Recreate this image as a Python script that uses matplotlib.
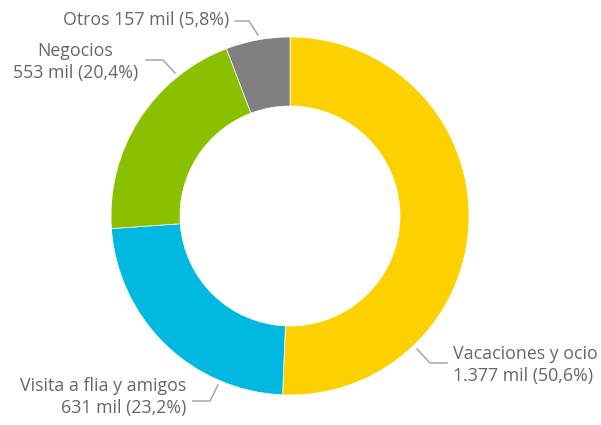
import matplotlib.pyplot as plt

# -------------------------
# Data
# -------------------------
categories = ['Vacaciones y ocio', 'Visita a flia y amigos', 'Negocios', 'Otros']
values = [1377, 631, 553, 157]          # miles
percents = ['50,6%', '23,2%', '20,4%', '5,8%']
colors = ['#FDD100', '#01B8E0', '#8AC000', '#7F7F82']

plt.rcParams['font.family'] = ['Open Sans', 'DejaVu Sans']

W, H = 601, 425
fig = plt.figure(figsize=(W / 100, H / 100), dpi=100)
ax = fig.add_axes([0, 0, 1, 1])

cx, cy, r = 290, H - 216, 179
ax.pie(values, colors=colors, startangle=90, counterclock=False,
       radius=r, center=(cx, cy),
       wedgeprops=dict(width=69, edgecolor='white', linewidth=0.5))

ax.set_xlim(0, W)
ax.set_ylim(0, H)
ax.set_aspect('equal')
ax.axis('off')

def fmt_val(v):
    s = f"{v:,}".replace(',', '.')
    return f"{s} mil"

txt = dict(color='#666666', fontsize=12.8)
line = dict(color='#A6A6A6', lw=1.1)

def Y(y):
    return H - y

# Otros (single line)
ax.text(229, Y(20), f"{categories[3]} {fmt_val(values[3])} ({percents[3]})",
        ha='right', va='center', **txt)
ax.plot([235, 249, 258], [Y(21), Y(21), Y(35)], **line)

# Negocios
ax.text(138, Y(62), f"{categories[2]}\n{fmt_val(values[2])} ({percents[2]})",
        ha='right', va='center', linespacing=1.3, multialignment='center', **txt)
ax.plot([146, 163, 175], [Y(60), Y(60), Y(73)], **line)

# Vacaciones
ax.text(453, Y(365), f"{categories[0]}\n{fmt_val(values[0])} ({percents[0]})",
        ha='left', va='center', linespacing=1.3, **txt)
ax.plot([417, 430, 447], [Y(349), Y(363), Y(363)], **line)

# Visita
ax.text(186, Y(397), f"{categories[1]}\n{fmt_val(values[1])} ({percents[1]})",
        ha='right', va='center', linespacing=1.3, multialignment='right', **txt)
ax.plot([193, 210, 218], [Y(401), Y(401), Y(385)], **line)

fig.savefig('out.png', dpi=100)
